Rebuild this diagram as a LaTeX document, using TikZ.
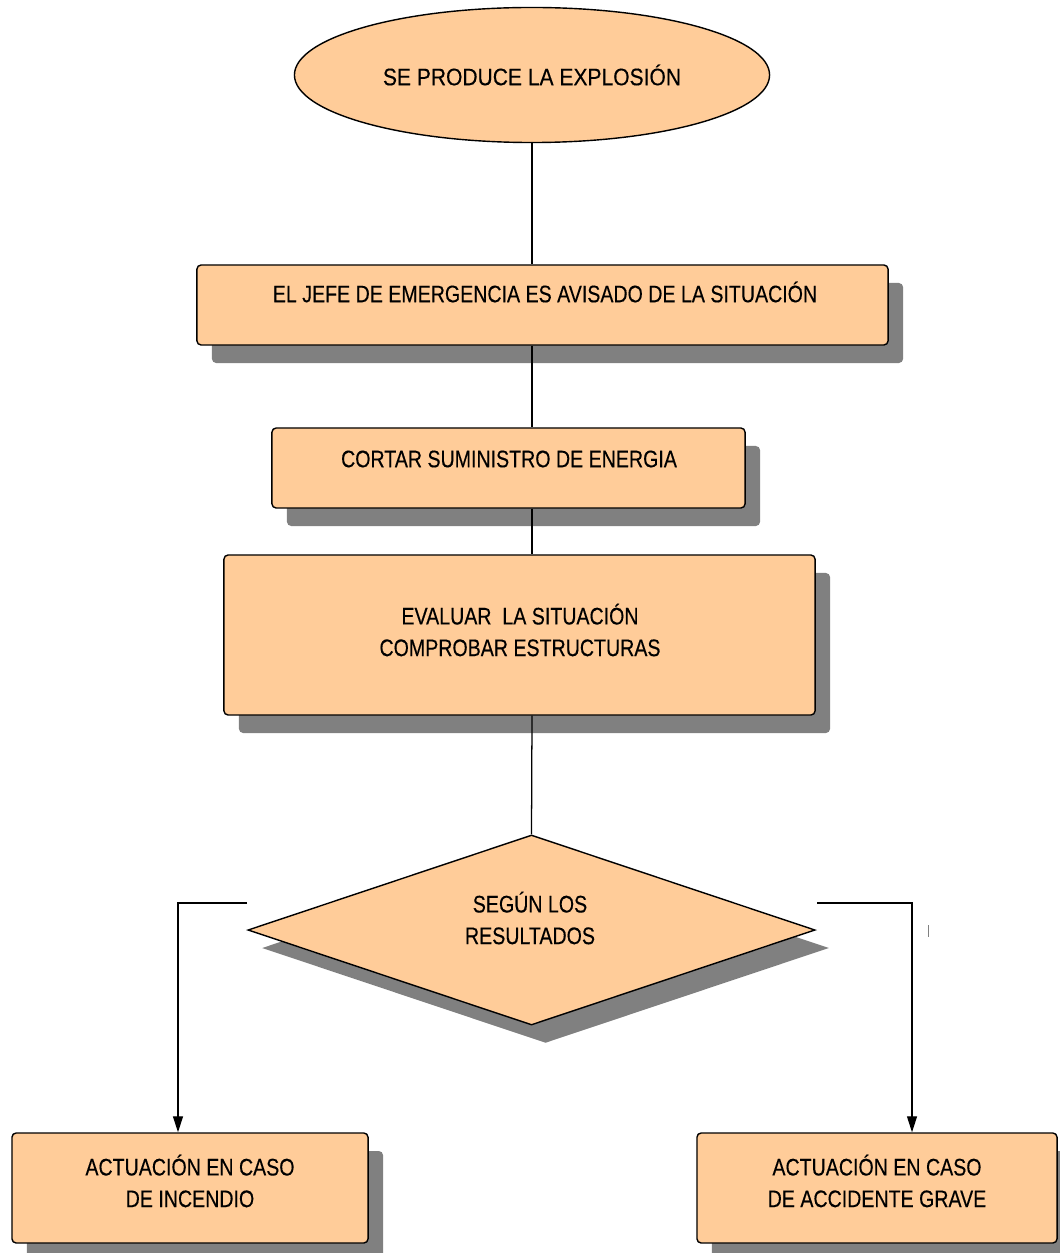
\documentclass[tikz,border=0pt]{standalone}
\usepackage{fontspec}
\setmainfont{Liberation Sans}
\newfontfamily\ovalfont[FakeStretch=0.88,FakeBold=0.3]{Liberation Sans}
\newfontfamily\boxfont[FakeStretch=0.82,FakeBold=0.3]{Liberation Sans}
\usetikzlibrary{shapes.geometric,shadows,arrows.meta}
\definecolor{peach}{RGB}{255,204,153}
\definecolor{shadowgray}{RGB}{128,128,128}
\tikzset{
  box/.style={draw, line width=1pt, rounded corners=3pt, fill=peach,
    drop shadow={shadow xshift=0.375cm, shadow yshift=-0.45cm, fill=shadowgray, opacity=1}},
  txt/.style={align=center, font=\boxfont\fontsize{17}{22.5}\selectfont},
  arr/.style={-{Triangle[length=0.4cm,width=0.25cm]}, line width=0.8pt}
}
\begin{document}
\begin{tikzpicture}[x=0.025cm,y=-0.025cm]
\useasboundingbox (0,0) rectangle (1059,1253);
\node [ellipse, draw, line width=1pt, fill=peach, minimum width=11.875cm, minimum height=3.375cm,
  font=\ovalfont\fontsize{17}{22}\selectfont] (e) at (532,75) {SE PRODUCE LA EXPLOSIÓN};
\node [box, minimum width=17.275cm, minimum height=2cm] (b1) at (542.5,305) {};
\node [txt] (t1) at (545,292) {EL JEFE DE EMERGENCIA ES AVISADO DE LA SITUACIÓN};
\node [box, minimum width=11.825cm, minimum height=2cm] (b2) at (508.5,468) {};
\node [txt] (t2) at (509,459) {CORTAR SUMINISTRO DE ENERGIA};
\node [box, minimum width=14.775cm, minimum height=4cm] (b3) at (519.5,635) {};
\node [txt] (t3) at (520,630) {EVALUAR\ \ LA SITUACIÓN\\COMPROBAR ESTRUCTURAS};
\node [diamond, draw, line width=1pt, fill=peach, inner sep=0pt, minimum width=14.175cm, minimum height=4.75cm,
  drop shadow={shadow xshift=0.35cm, shadow yshift=-0.45cm, fill=shadowgray, opacity=1}] (d) at (531.5,930) {};
\node [txt] (t4) at (530,918) {SEGÚN LOS\\RESULTADOS};
\node [box, minimum width=8.9cm, minimum height=2.75cm] (b4) at (190,1188) {};
\node [txt] (t5) at (190,1181) {ACTUACIÓN EN CASO\\DE INCENDIO};
\node [box, minimum width=9cm, minimum height=2.75cm] (b5) at (877,1188) {};
\node [txt] (t6) at (877,1181) {ACTUACIÓN EN CASO\\DE ACCIDENTE GRAVE};
% connectors
\draw [line width=0.9pt] (e.south) -- (e.south |- b1.north);
\draw [line width=0.9pt] (e.south |- b1.south) -- (e.south |- b2.north);
\draw [line width=0.9pt] (e.south |- b2.south) -- (e.south |- b3.north);
\draw [line width=0.9pt] (e.south |- b3.south) -- (d.north);
\coordinate (l) at (247,903);
\coordinate (r) at (817,903);
\draw [arr] (l) -| ([xshift=-0.3cm]b4.north);
\draw [arr] (r) -| ([xshift=0.875cm]b5.north);
\draw [shadowgray, line width=0.6pt] (928,925) -- (928,937);
\end{tikzpicture}
\end{document}
